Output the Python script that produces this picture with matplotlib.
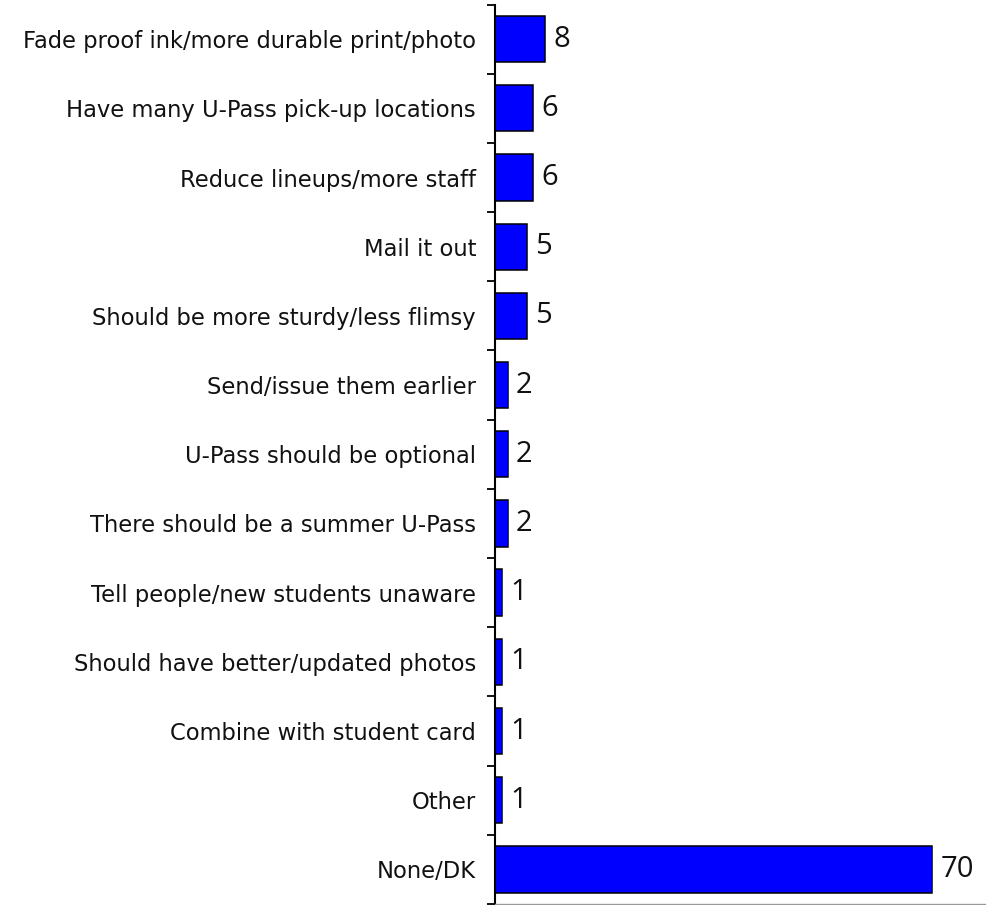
import numpy as np
import matplotlib
matplotlib.use("Agg")
import matplotlib.pyplot as plt
from matplotlib.ticker import FixedLocator

categories = [
    "Fade proof ink/more durable print/photo",
    "Have many U-Pass pick-up locations",
    "Reduce lineups/more staff",
    "Mail it out",
    "Should be more sturdy/less flimsy",
    "Send/issue them earlier",
    "U-Pass should be optional",
    "There should be a summer U-Pass",
    "Tell people/new students unaware",
    "Should have better/updated photos",
    "Combine with student card",
    "Other",
    "None/DK",
]
values = [8, 6, 6, 5, 5, 2, 2, 2, 1, 1, 1, 1, 70]

fig = plt.figure(figsize=(9.86, 9.05), dpi=100)
ax = fig.add_axes([0.5025, 0.0011, 0.4975, 0.9939])

y = np.arange(len(categories))
ax.barh(y, values, height=0.67, color="#0000ff", edgecolor="black", linewidth=1.1)

# value labels just right of each bar
for yi, v in zip(y, values):
    ax.text(v + 1.3, yi, str(v), va="center", ha="left",
            fontsize=21, family="Open Sans", color="#111111")

ax.set_ylim(len(categories) - 0.5, -0.5)
ax.set_xlim(0, 78.6)

ax.set_yticks(y)
ax.set_yticklabels(categories, fontsize=16.3, color="#111111")
ax.tick_params(axis="y", which="major", length=0, pad=14)
ax.yaxis.set_minor_locator(FixedLocator(np.arange(-0.5, len(categories), 1.0)))
ax.tick_params(axis="y", which="minor", length=6, width=1.3, direction="out")
ax.set_xticks([])

for side in ["top", "right"]:
    ax.spines[side].set_visible(False)
ax.spines["left"].set_linewidth(1.5)
ax.spines["bottom"].set_color("#999999")
ax.spines["bottom"].set_linewidth(1.0)

fig.savefig("out.png", dpi=100)
